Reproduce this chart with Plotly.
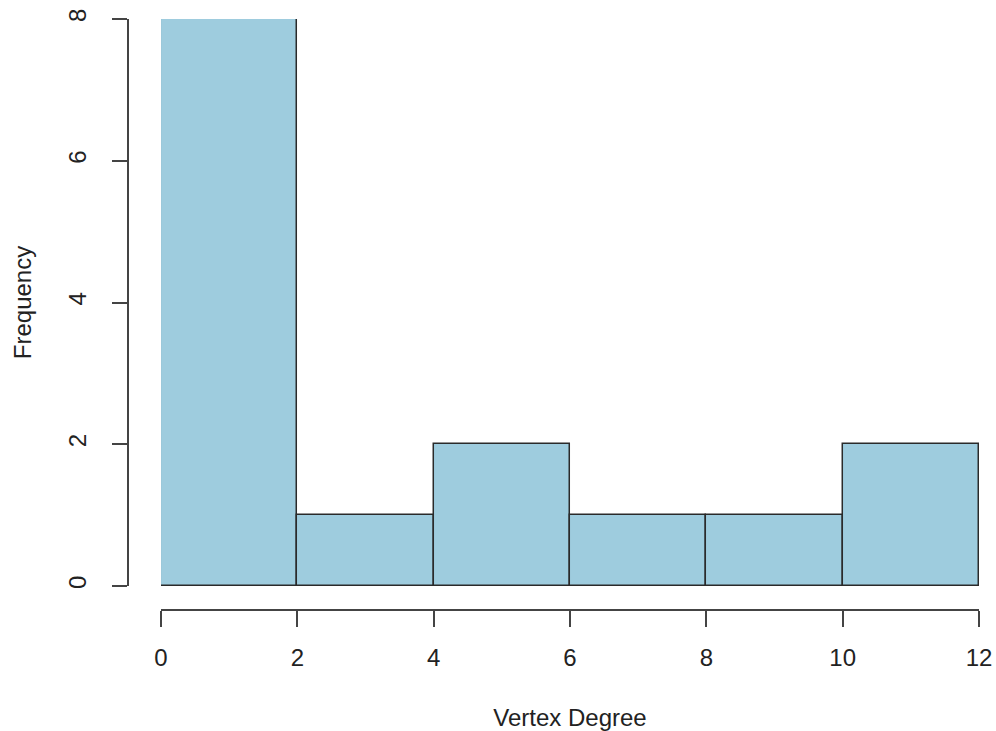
import plotly.graph_objects as go

bin_edges = [0, 2, 4, 6, 8, 10, 12]
counts = [8, 1, 2, 1, 1, 2]
x_ticks = [0, 2, 4, 6, 8, 10, 12]
y_ticks = [0, 2, 4, 6, 8]

centers = [(a + b) / 2 for a, b in zip(bin_edges[:-1], bin_edges[1:])]
widths = [b - a for a, b in zip(bin_edges[:-1], bin_edges[1:])]

fig = go.Figure(go.Bar(
    x=centers, y=counts, width=widths,
    marker=dict(color="#9ECCDE", line=dict(color="#2a2a2a", width=1.5)),
    hoverinfo="skip",
))

font = dict(family="Liberation Sans, Arial, Helvetica, sans-serif", size=24, color="#222")

fig.update_layout(
    width=996, height=731,
    margin=dict(l=128, r=17, t=19, b=121, autoexpand=False),
    paper_bgcolor="white", plot_bgcolor="white",
    showlegend=False,
    font=font,
    bargap=0,
    xaxis=dict(
        domain=[0.0388, 1], range=[0, 12], anchor="free", position=0, automargin=False,
        tickvals=x_ticks, ticks="outside", ticklen=16, tickwidth=1.5, tickcolor="#444",
        showline=True, linecolor="#444", linewidth=1.5, showgrid=False, zeroline=False,
        ticklabelstandoff=10, tickfont=font,
        title=dict(text="Vertex Degree", standoff=42, font=font),
    ),
    yaxis=dict(
        domain=[0.0406, 1], range=[0, 8], anchor="free", position=0, automargin=False,
        tickvals=y_ticks, ticks="outside", ticklen=15, tickwidth=1.5, tickcolor="#444",
        showline=True, linecolor="#444", linewidth=1.5, showgrid=False, zeroline=False,
        tickangle=-90, ticklabelstandoff=17, tickfont=font,
        title=dict(text="Frequency", standoff=24, font=font),
    ),
)

fig.write_html(
    "out.html",
    config={"displayModeBar": False},
    post_script="document.body.style.margin='0';document.body.style.overflow='hidden';",
)
